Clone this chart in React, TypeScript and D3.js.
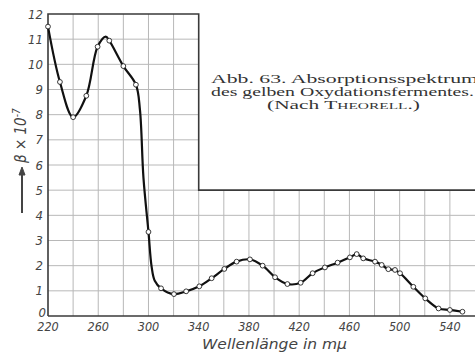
import { line, curveCatmullRom, range, scaleLinear } from 'd3';
import * as React from 'react';

// wavelength (mμ) and β × 10^-7
const curveWl = [220, 229.5, 240, 250.5, 259.5, 266, 268.8, 280, 290, 293.2, 296, 300, 302.5, 305, 310, 320.3, 330, 340.5, 350.3, 360.4, 370.2, 380.8, 390.9, 400.8, 410.6, 421.2, 430.7, 440.5, 450.6, 460.4, 465.8, 471, 480.4, 485.7, 491, 496.3, 500.3, 510.9, 520.4, 531, 540, 550];
const curveBeta = [11.5, 9.3, 7.9, 8.75, 10.7, 11.1, 10.94, 9.93, 9.19, 8.2, 5.5, 3.34, 1.96, 1.4, 1.1, 0.87, 0.98, 1.18, 1.5, 1.87, 2.16, 2.25, 2.0, 1.54, 1.27, 1.32, 1.7, 1.93, 2.12, 2.33, 2.46, 2.29, 2.16, 2.03, 1.86, 1.83, 1.7, 1.16, 0.7, 0.3, 0.24, 0.17];
// measured points (open circles)
const markerWl = [220, 229.5, 240, 250.5, 259.5, 268.8, 280, 290, 300, 310, 320.3, 330, 340.5, 350.3, 360.4, 370.2, 380.8, 390.9, 400.8, 410.6, 421.2, 430.7, 440.5, 450.6, 460.4, 465.8, 471, 480.4, 485.7, 491, 496.3, 500.3, 510.9, 520.4, 531, 540, 550];
const markerBeta = [11.5, 9.3, 7.9, 8.75, 10.7, 10.94, 9.93, 9.19, 3.34, 1.1, 0.87, 0.98, 1.18, 1.5, 1.87, 2.16, 2.25, 2.0, 1.54, 1.27, 1.32, 1.7, 1.93, 2.12, 2.33, 2.46, 2.29, 2.16, 2.03, 1.86, 1.83, 1.7, 1.16, 0.7, 0.3, 0.24, 0.17];

const xTicks = [220, 260, 300, 340, 380, 420, 460, 500, 540];
const yTicks = [0, 1, 2, 3, 4, 5, 6, 7, 8, 9, 10, 11, 12];
const caption = ['Abb. 63.  Absorptionsspektrum', 'des gelben Oxydationsfermentes.'];

const gridColor = '#b8b8b8';
const frameColor = '#3a3a3a';
const tickFont = '"DejaVu Sans Condensed", "Liberation Sans Narrow", "DejaVu Sans", sans-serif';

const App = () => {
    const x = scaleLinear().domain([220, 560]).range([48, 475]);
    const y = scaleLinear().domain([0, 12]).range([316, 14]);

    const path = line<number>()
        .x((d, i) => x(curveWl[i]))
        .y((d) => y(d))
        .curve(curveCatmullRom.alpha(0.5))(curveBeta);

    const vGrid = range(240, 560, 20);
    const hGrid = range(1, 12);

    return (
        <svg width={475} height={356} style={{ position: 'absolute', left: 0, top: 0, background: '#fff' }}>
            <g className="grid" stroke={gridColor} strokeWidth={1}>
                {vGrid.map((v) => (
                    <line key={'v' + v} x1={x(v)} x2={x(v)} y1={y(0)} y2={y(v < 340 ? 12 : 5)} />
                ))}
                {hGrid.map((v) => (
                    <line key={'h' + v} x1={x(220)} x2={x(v < 5 ? 560 : 340)} y1={y(v)} y2={y(v)} />
                ))}
            </g>
            <g className="frame" stroke={frameColor} strokeWidth={1.6} fill="none">
                <path d={`M${x(220)},${y(0)}V${y(12)}H${x(340)}V${y(5)}H${x(560)}`} />
                <line x1={x(220)} x2={x(560)} y1={y(0)} y2={y(0)} />
            </g>
            <path d={path || ''} fill="none" stroke="#111" strokeWidth={2.2} />
            {markerWl.map((w, i) => (
                <circle key={'m' + i} cx={x(w)} cy={y(markerBeta[i])} r={2.4} fill="#fff" stroke="#222" strokeWidth={0.9} />
            ))}
            <g className="y-axis" fill="#444" fontFamily={tickFont} fontStyle="italic" fontSize={13}>
                {yTicks.map((t) => (
                    <text key={'yt' + t} x={t === 0 ? 46 : 43} y={t === 0 ? y(t) + 1 : y(t) + 4.5} textAnchor="end">{t}</text>
                ))}
            </g>
            <g className="x-axis" fill="#444" fontFamily={tickFont} fontStyle="italic" fontSize={12.5}>
                {xTicks.map((t) => (
                    <text key={'xt' + t} x={x(t)} y={331} textAnchor="middle">{t}</text>
                ))}
            </g>
            <text x={202} y={349} fill="#444" fontFamily={tickFont} fontStyle="italic" fontSize={13.5} textLength={145} lengthAdjust="spacingAndGlyphs">
                Wellenlänge in mμ
            </text>
            <g transform="translate(26,213) rotate(-90)" fill="#444" stroke="#444">
                <line x1={0} x2={40} y1={-4} y2={-4} strokeWidth={2} />
                <path d="M46,-4 L38,-7 L38,-1 Z" strokeWidth={1} />
                <text x={50} y={0} stroke="none" fontFamily={tickFont} fontStyle="italic" fontSize={15}>
                    β × 10<tspan dy={-6} fontSize={10}>-7</tspan>
                </text>
            </g>
            <g className="caption" fill="#333" fontFamily='"Liberation Serif", "DejaVu Serif", serif' fontSize={12.5}>
                <text x={211} y={83} textLength={267} lengthAdjust="spacingAndGlyphs">{caption[0]}</text>
                <text x={211} y={96} textLength={263} lengthAdjust="spacingAndGlyphs">{caption[1]}</text>
                <text x={267} y={109} textLength={153} lengthAdjust="spacingAndGlyphs">
                    (Nach T<tspan style={{ fontVariant: 'small-caps' }}>heorell</tspan>.)
                </text>
            </g>
        </svg>
    );
};

export default App;
